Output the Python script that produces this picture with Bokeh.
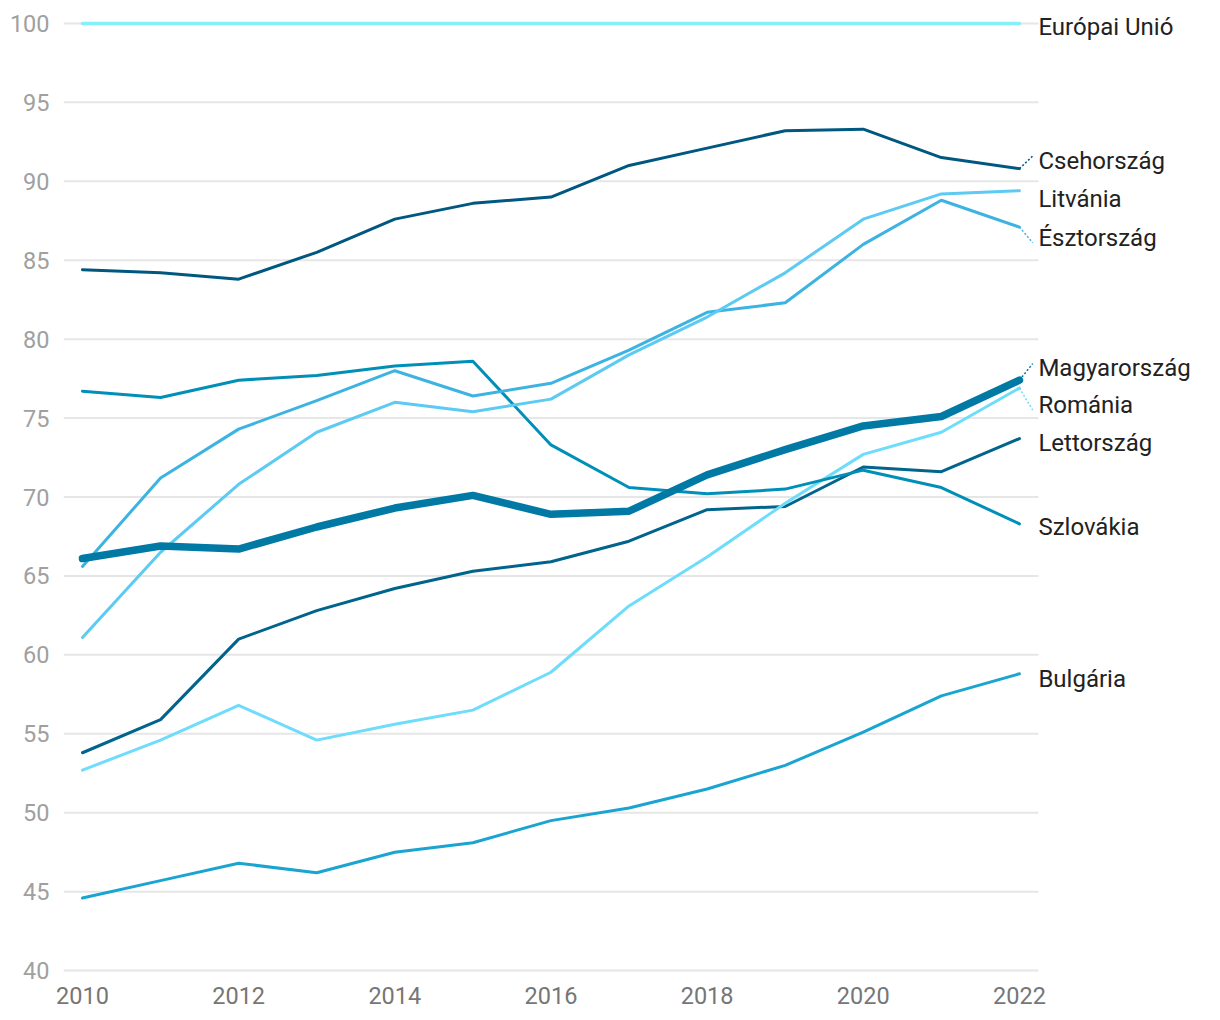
from bokeh.plotting import figure
from bokeh.models import FixedTicker, Range1d
from bokeh.core.properties import value
from bokeh.embed import file_html
from bokeh.resources import INLINE

years = list(range(2010, 2023))

eu = [100] * 13
cseh = [84.4, 84.2, 83.8, 85.5, 87.6, 88.6, 89.0, 91.0, 92.1, 93.2, 93.3, 91.5, 90.8]
litv = [61.1, 66.5, 70.8, 74.1, 76.0, 75.4, 76.2, 79.0, 81.4, 84.2, 87.6, 89.2, 89.4]
eszt = [65.6, 71.2, 74.3, 76.1, 78.0, 76.4, 77.2, 79.3, 81.7, 82.3, 86.0, 88.8, 87.1]
magy = [66.1, 66.9, 66.7, 68.1, 69.3, 70.1, 68.9, 69.1, 71.4, 73.0, 74.5, 75.1, 77.4]
rom = [52.7, 54.6, 56.8, 54.6, 55.6, 56.5, 58.9, 63.1, 66.2, 69.6, 72.7, 74.1, 76.9]
lett = [53.8, 55.9, 61.0, 62.8, 64.2, 65.3, 65.9, 67.2, 69.2, 69.4, 71.9, 71.6, 73.7]
szlov = [76.7, 76.3, 77.4, 77.7, 78.3, 78.6, 73.3, 70.6, 70.2, 70.5, 71.7, 70.6, 68.3]
bulg = [44.6, 45.7, 46.8, 46.2, 47.5, 48.1, 49.5, 50.3, 51.5, 53.0, 55.1, 57.4, 58.8]

names = ["Európai Unió", "Csehország", "Litvánia", "Észtország", "Magyarország",
         "Románia", "Lettország", "Szlovákia", "Bulgária"]
series = [eu, cseh, litv, eszt, magy, rom, lett, szlov, bulg]
colors = ["#84F0F8", "#005880", "#5CCAF2", "#3DB3E2", "#0079A5",
          "#6EDCFB", "#00648C", "#008FB8", "#1AA4D1"]
widths = [3.5, 3, 3, 3, 7.5, 3, 3, 3, 3]
label_y = [99.75, 91.3, 88.85, 86.4, 78.15, 75.8, 73.4, 68.1, 58.5]
connector = [False, True, False, True, True, True, False, False, False]
y_ticks = list(range(40, 101, 5))
x_ticks = list(range(2010, 2023, 2))

X0, X1 = 2009.757, 2022.243

p = figure(width=1210, height=1014, output_backend="svg", toolbar_location=None,
           x_range=Range1d(X0, X0 + (1210 - 63) / 78.08), y_range=Range1d(39.5, 100.5),
           min_border_left=63, min_border_right=0, min_border_top=15, min_border_bottom=36)
p.outline_line_color = None
p.background_fill_color = "white"
p.border_fill_color = "white"

p.xgrid.grid_line_color = None
p.ygrid.grid_line_color = None
p.segment(x0=[X0] * len(y_ticks), y0=y_ticks, x1=[X1] * len(y_ticks), y1=y_ticks,
          line_color="#E6E6E6", line_width=2)

p.yaxis.ticker = FixedTicker(ticks=y_ticks)
p.xaxis.ticker = FixedTicker(ticks=x_ticks)
for ax in (p.xaxis, p.yaxis):
    ax.axis_line_color = None
    ax.major_tick_line_color = None
    ax.minor_tick_line_color = None
    ax.major_label_text_font = "Roboto"
    ax.major_label_text_font_size = "23.5px"
p.yaxis.major_label_text_color = "#A0A0A0"
p.xaxis.major_label_text_color = "#767676"
p.yaxis.major_label_standoff = 8
p.xaxis.major_label_standoff = 2

order = [0, 8, 6, 5, 7, 3, 2, 1, 4]
for i in order:
    p.line(years, series[i], line_color=colors[i], line_width=widths[i],
           line_join="round", line_cap="round")

for i in range(len(names)):
    if connector[i]:
        up = label_y[i] > series[i][-1]
        p.segment(x0=[2022.0], y0=[series[i][-1]], x1=[2022.17],
                  y1=[label_y[i] + (0.3 if up else -0.3)],
                  line_color=colors[i], line_width=1.5, line_dash="2 2")

p.text(x=[X1] * len(names), y=label_y, text=names, text_font=value("Roboto"),
       text_font_size="24px", text_color="#222222", text_baseline="middle",
       text_align="left")

open("out.html", "w").write(file_html(p, INLINE))
